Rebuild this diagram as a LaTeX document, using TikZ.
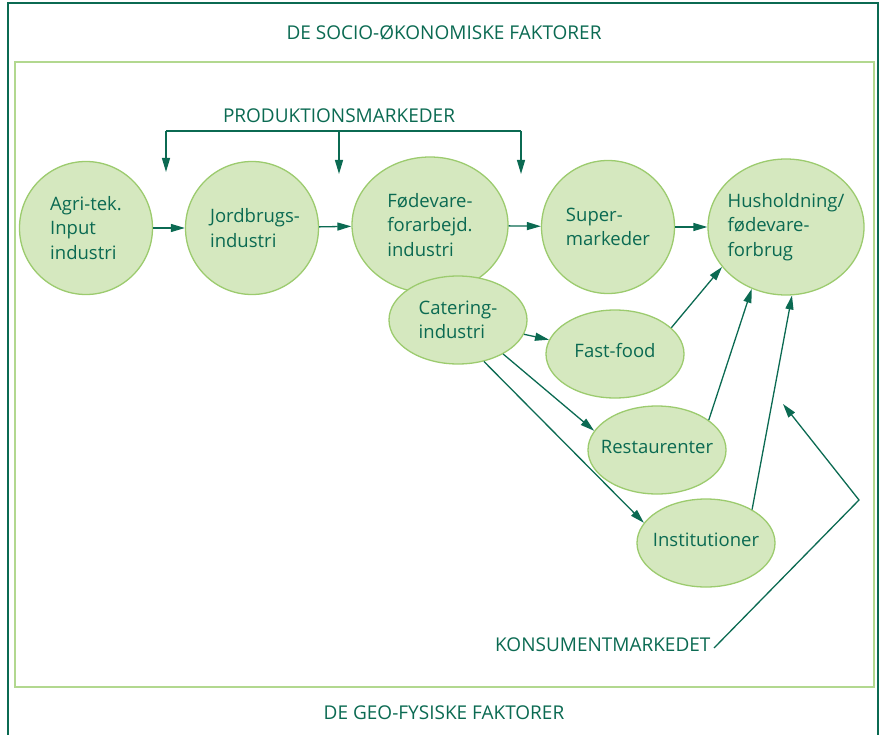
\documentclass[tikz,border=0pt]{standalone}
\usepackage{fontspec}
\setmainfont{Open Sans}
\usetikzlibrary{shapes.geometric,arrows.meta}
\definecolor{dg}{HTML}{0B6A52}
\definecolor{lg}{HTML}{D5E8BF}
\definecolor{mg}{HTML}{9CCB6E}
\definecolor{fg}{HTML}{B2D88F}
\begin{document}
\begin{tikzpicture}[x=1pt,y=-1pt,
 bub/.style={ellipse,draw=mg,fill=lg,line width=1.3pt,inner sep=0pt},
 txt/.style={text=dg,font=\fontsize{18.5}{24.5}\selectfont,align=left},
 big/.style={bub,minimum width=133pt,minimum height=133pt},
 wide/.style={bub,minimum width=156pt,minimum height=136pt},
 small/.style={bub,minimum width=138pt,minimum height=88pt},
 conn/.style={draw=dg,line width=1.3pt,-{Triangle[length=14pt,width=8pt]}},
 ttl/.style={text=dg,font=\fontsize{19}{21}\selectfont}]
\useasboundingbox (0,0) rectangle (885,735);
\clip (0,0) rectangle (885,735);
\draw[dg,line width=1.5pt] (8,745) -- (8,3) -- (878,3) -- (878,745);
\draw[fg,line width=1.5pt] (15,62) rectangle (874,687);

\node[big,label={[txt]center:Agri-tek.\\Input\\industri}] (agri) at (86,228) {};
\node[big,label={[txt,xshift=3pt]center:Jordbrugs-\\industri}] (jord) at (252,228) {};
\node[wide,label={[txt]center:Fødevare-\\forarbejd.\\industri}] (fode) at (430,225) {};
\node[big,label={[txt]center:Super-\\markeder}] (sup) at (608,227) {};
\node[wide,label={[txt]center:Husholdning/\\fødevare-\\forbrug}] (hus) at (786,227) {};
\node[small,label={[txt]center:Catering-\\industri}] (cat) at (458,320) {};
\node[small,label={[txt,yshift=3pt]center:Fast-food}] (ff) at (615,354) {};
\node[small,label={[txt,yshift=3pt]center:Restaurenter}] (res) at (657,450) {};
\node[small,label={[txt,yshift=3pt]center:Institutioner}] (inst) at (706,543) {};

\node[ttl] (soc) at (444,33) {DE SOCIO-ØKONOMISKE FAKTORER};
\node[ttl] (prod) at (339,116) {PRODUKTIONSMARKEDER};
\node[ttl,anchor=east] (kons) at (714,645) {KONSUMENTMARKEDET};
\node[ttl] (geo) at (444,713) {DE GEO-FYSISKE FAKTORER};

\coordinate (b1) at (166,131);
\coordinate (b2) at (339,131);
\coordinate (b3) at (521,131);
\coordinate (t1) at (166,172);
\coordinate (t2) at (339,174);
\coordinate (t3) at (521,174);
\draw[dg,line width=1.3pt] (b1) -- (b3);
\draw[conn] (b1) -- (t1);
\draw[conn] (b2) -- (t2);
\draw[conn] (b3) -- (t3);

\draw[conn] (agri) -- (jord);
\draw[conn] (jord) -- (fode);
\draw[conn] (fode) -- (sup);
\draw[conn] (sup) -- (hus);

\draw[conn] (cat) -- (ff);
\draw[conn] (cat.-37) -- (res.163);
\draw[conn] (cat.-58) -- (inst.162);
\draw[conn] (ff.25) -- (hus.-148);
\draw[conn] (res.30) -- (hus.-119);
\draw[conn] (inst.36) -- (hus.-85);

\coordinate (kc) at (859,500);
\coordinate (kt) at (783,404);
\draw[conn] ([yshift=-3pt]kons.east) -- (kc) -- (kt);
\end{tikzpicture}
\end{document}
